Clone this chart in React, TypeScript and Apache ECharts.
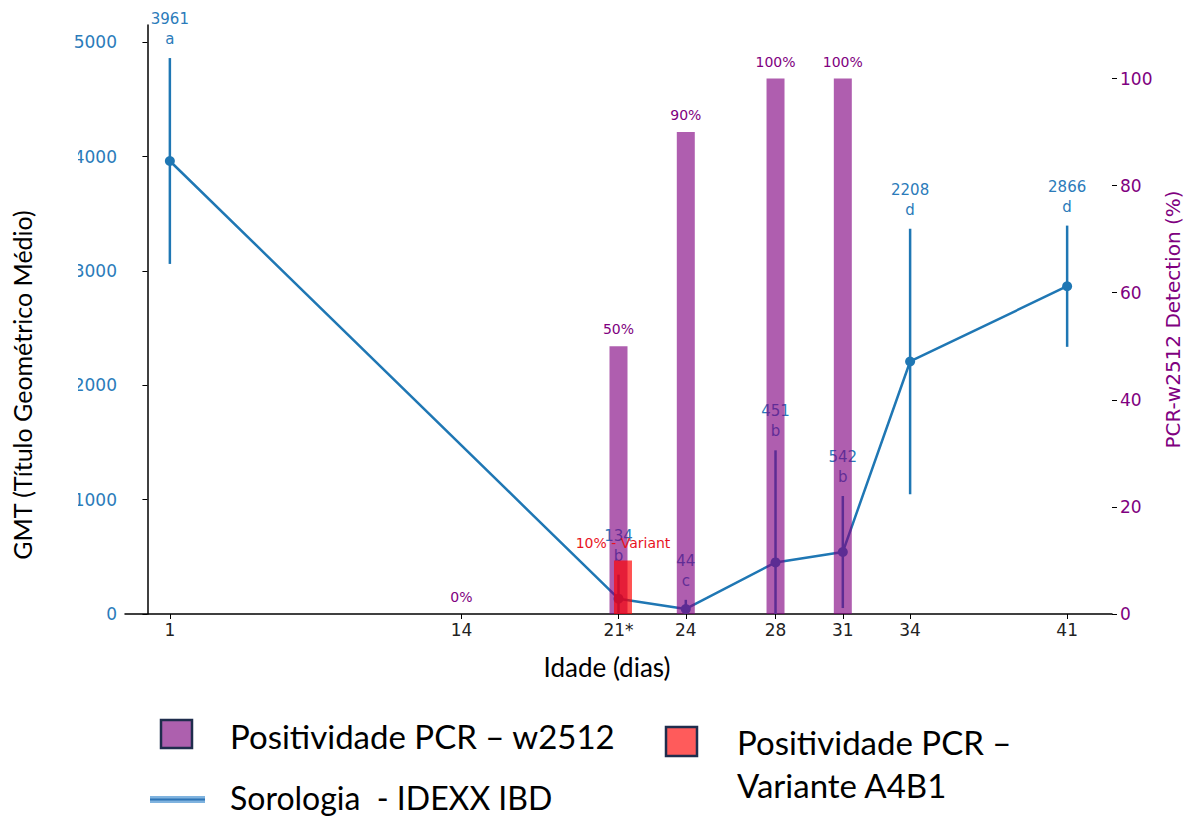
import React, { useEffect, useRef } from "react";
import * as echarts from "echarts";

const days = [1, 21, 24, 28, 31, 34, 41];
const gmt = [3961, 134, 44, 451, 542, 2208, 2866];
const gmtErr = [900, 210, 80, 980, 490, 1160, 530];
const letters = ["a", "b", "c", "b", "b", "d", "d"];

const pcrDays = [14, 21, 24, 28, 31];
const pcrPct = [0, 50, 90, 100, 100];

const variantDays = [21.2];
const variantPct = [10];
const variantLabel = "10% - Variant";

const xTicks = [1, 14, 21, 24, 28, 31, 34, 41];
const xTickLabels = ["1", "14", "21*", "24", "28", "31", "34", "41"];
const leftTicks = [0, 1000, 2000, 3000, 4000, 5000];
const rightTicks = [0, 20, 40, 60, 80, 100];

const BLUE = "#1f77b4";
const LBLUE = "#2b7bba";
const PURPLE = "#800080";
const MPL = "DejaVu Sans";
const SLIDE = "Lato";

export default function App() {
  const ref = useRef<HTMLDivElement>(null);
  useEffect(() => {
    const chart = echarts.init(ref.current!, null, { renderer: "svg" });
    const option: any = {
      animation: false,
      grid: { left: 125, right: 72, top: 25, bottom: 203, outerBoundsMode: "none" },
      xAxis: {
        type: "value",
        min: -1,
        max: 43,
        axisLine: { show: true, lineStyle: { color: "#000", width: 1.5 } },
        axisTick: { show: true, customValues: xTicks, length: 5, lineStyle: { color: "#000" } },
        axisLabel: {
          customValues: xTicks,
          formatter: (v: number) => xTickLabels[xTicks.indexOf(v)] ?? String(v),
          fontFamily: MPL,
          fontSize: 17,
          color: "#222",
          margin: 7,
        },
        splitLine: { show: false },
      },
      yAxis: [
        {
          type: "value",
          min: 0,
          max: 5150,
          axisLine: { show: true, lineStyle: { color: "#000", width: 1.5 } },
          axisTick: { show: true, customValues: leftTicks, length: 5, lineStyle: { color: "#000" } },
          axisLabel: {
            customValues: leftTicks,
            formatter: (v: number) => String(v),
            fontFamily: MPL,
            fontSize: 17,
            color: LBLUE,
            margin: 8,
          },
          splitLine: { show: false },
        },
        {
          type: "value",
          min: 0,
          max: 110,
          position: "right",
          name: "PCR-w2512 Detection (%)",
          nameLocation: "middle",
          nameGap: 47,
          nameRotate: 90,
          nameTextStyle: { fontFamily: MPL, fontSize: 20, color: PURPLE },
          axisLine: { show: false },
          axisTick: { show: true, customValues: rightTicks, length: 5, lineStyle: { color: "#000" } },
          axisLabel: { customValues: rightTicks, fontFamily: MPL, fontSize: 17, color: PURPLE, margin: 8 },
          splitLine: { show: false },
        },
      ],
      series: [
        {
          type: "custom",
          z: 1,
          yAxisIndex: 0,
          data: days.map((d, i) => [d, gmt[i], gmtErr[i]]),
          renderItem: (params: any, api: any) => {
            const x = api.value(0);
            const v = api.value(1);
            const e = api.value(2);
            const top = api.coord([x, v + e]);
            const bot = api.coord([x, Math.max(0, v - e)]);
            return {
              type: "group",
              children: [
                {
                  type: "line",
                  shape: { x1: top[0], y1: top[1], x2: bot[0], y2: bot[1] },
                  style: { stroke: BLUE, lineWidth: 2.5 },
                },
                {
                  type: "text",
                  x: top[0],
                  y: top[1] - 9,
                  style: {
                    text: `${v}\n${letters[params.dataIndex]}`,
                    align: "center",
                    verticalAlign: "bottom",
                    fill: LBLUE,
                    fontSize: 15,
                    lineHeight: 20,
                    fontFamily: MPL,
                  },
                },
              ],
            };
          },
        },
        {
          type: "line",
          z: 2,
          yAxisIndex: 0,
          data: days.map((d, i) => [d, gmt[i]]),
          symbol: "circle",
          symbolSize: 10,
          itemStyle: { color: BLUE },
          lineStyle: { color: BLUE, width: 2.5 },
        },
        {
          type: "bar",
          z: 3,
          yAxisIndex: 1,
          barWidth: 18,
          barGap: "-100%",
          data: pcrDays.map((d, i) => [d, pcrPct[i]]),
          itemStyle: { color: "rgba(128,0,128,0.63)" },
          label: {
            show: true,
            position: "top",
            distance: 10,
            formatter: (p: any) => `${p.value[1]}%`,
            fontFamily: MPL,
            fontSize: 14,
            color: PURPLE,
          },
        },
        {
          type: "bar",
          z: 4,
          yAxisIndex: 1,
          barWidth: 18,
          barGap: "-100%",
          data: variantDays.map((d, i) => [d, variantPct[i]]),
          itemStyle: { color: "rgba(255,0,0,0.68)" },
          label: {
            show: true,
            position: "top",
            distance: 10,
            formatter: () => variantLabel,
            fontFamily: MPL,
            fontSize: 14,
            color: "#e8141e",
          },
        },
      ],
      graphic: [
        { type: "rect", z: 100, shape: { x: 50, y: 130, width: 28, height: 400 }, style: { fill: "#fff" } },
        {
          type: "text",
          x: 22,
          y: 385,
          rotation: Math.PI / 2,
          style: {
            text: "GMT (Título Geométrico Médio)",
            align: "center",
            verticalAlign: "middle",
            fontFamily: SLIDE,
            fontSize: 25,
            fill: "#000",
          },
        },
        {
          type: "text",
          x: 607,
          y: 667,
          style: {
            text: "Idade (dias)",
            align: "center",
            verticalAlign: "middle",
            fontFamily: SLIDE,
            fontSize: 26,
            fill: "#000",
          },
        },
        {
          type: "rect",
          shape: { x: 161, y: 720, width: 31, height: 28 },
          style: { fill: "#ad60ae", stroke: "#1f2d4d", lineWidth: 2.5 },
        },
        {
          type: "text",
          x: 230,
          y: 736,
          style: { text: "Positividade PCR – w2512", verticalAlign: "middle", fontFamily: SLIDE, fontSize: 33, fill: "#000" },
        },
        {
          type: "rect",
          shape: { x: 666, y: 727, width: 31, height: 29 },
          style: { fill: "#ff5b5b", stroke: "#1f2d4d", lineWidth: 2.5 },
        },
        {
          type: "text",
          x: 737,
          y: 742,
          style: { text: "Positividade PCR –", verticalAlign: "middle", fontFamily: SLIDE, fontSize: 33, fill: "#000" },
        },
        {
          type: "text",
          x: 737,
          y: 785,
          style: { text: "Variante A4B1", verticalAlign: "middle", fontFamily: SLIDE, fontSize: 33, fill: "#000" },
        },
        {
          type: "rect",
          shape: { x: 150, y: 796, width: 55, height: 7 },
          style: { fill: "#7fb3df" },
        },
        {
          type: "line",
          shape: { x1: 150, y1: 799.5, x2: 205, y2: 799.5 },
          style: { stroke: "#2e75b6", lineWidth: 2 },
        },
        {
          type: "text",
          x: 230,
          y: 797,
          style: { text: "Sorologia  - IDEXX IBD", verticalAlign: "middle", fontFamily: SLIDE, fontSize: 32, fill: "#000" },
        },
      ],
    };
    chart.setOption(option);
    return () => chart.dispose();
  }, []);
  return (
    <div
      ref={ref}
      style={{ position: "fixed", left: 0, top: 0, width: 1184, height: 817, background: "#fff" }}
    />
  );
}
